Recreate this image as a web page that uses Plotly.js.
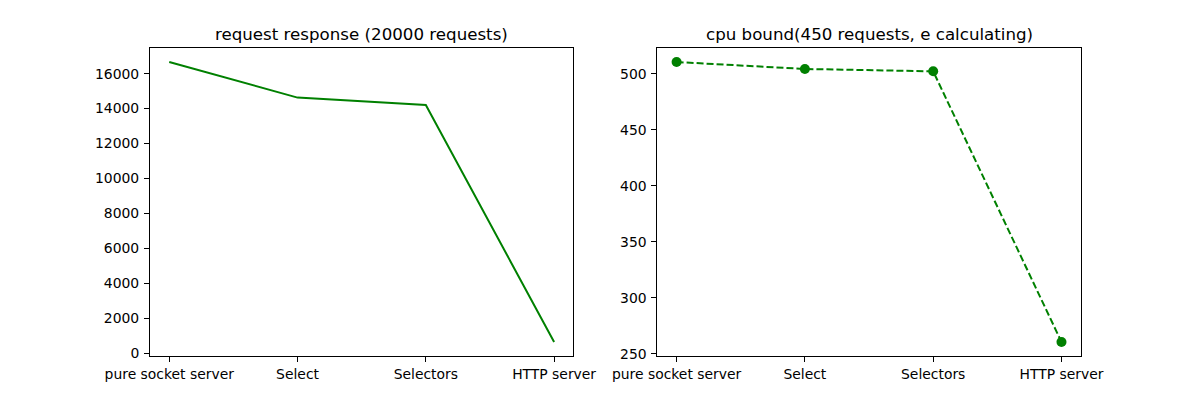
<!DOCTYPE html>
<html>
<head>
<meta charset="utf-8">
<script src="https://cdn.plot.ly/plotly-3.0.1.min.js"></script>
<style>html,body{margin:0;padding:0;background:#fff;}#chart{width:1200px;height:400px;}</style>
</head>
<body>
<div id="chart"></div>
<script>
const categories = ["pure socket server", "Select", "Selectors", "HTTP server"];
const requestResponse = [16670, 14630, 14210, 630];
const cpuBound = [510.4, 504.2, 502.1, 260.7];
const titles = ["request response (20000 requests)", "cpu bound(450 requests, e calculating)"];

const green = "#008000";
const font = {family: "DejaVu Sans, sans-serif", size: 13.9, color: "#000"};
const xIdx = categories.map((_, i) => i);

const traces = [
  {x: xIdx, y: requestResponse, type: "scatter", mode: "lines",
   line: {color: green, width: 2}, xaxis: "x", yaxis: "y", hoverinfo: "skip"},
  {x: xIdx, y: cpuBound, type: "scatter", mode: "lines+markers",
   line: {color: green, width: 2, dash: "7px,3px"},
   marker: {color: green, size: 10}, xaxis: "x2", yaxis: "y2", hoverinfo: "skip"}
];

function xa(domain, anchor) {
  return {domain: domain, anchor: anchor, range: [-0.15, 3.15],
    tickmode: "array", tickvals: xIdx, ticktext: categories,
    showgrid: false, zeroline: false, showline: true, mirror: true,
    linecolor: "#000", linewidth: 1, ticks: "outside", ticklen: 5, tickwidth: 1,
    tickcolor: "#000", tickfont: font, ticklabelstandoff: 0};
}
function ya(domain, anchor, range, dtick, tick0) {
  return {domain: domain, anchor: anchor, range: range, dtick: dtick, tick0: tick0,
    tickformat: "d", showgrid: false, zeroline: false, showline: true, mirror: true,
    linecolor: "#000", linewidth: 1, ticks: "outside", ticklen: 5, tickwidth: 1,
    tickcolor: "#000", tickfont: font, ticklabelstandoff: 2};
}

const yDom = [0.11, 0.88];
const layout = {
  width: 1200, height: 400,
  margin: {l: 0, r: 0, t: 0, b: 0},
  paper_bgcolor: "#fff", plot_bgcolor: "#fff",
  showlegend: false,
  xaxis: xa([0.125, 0.4778], "y"),
  yaxis: ya(yDom, "x", [-172, 17472], 2000, 0),
  xaxis2: xa([0.5478, 0.9006], "y2"),
  yaxis2: ya(yDom, "x2", [248.2, 522.9], 50, 250),
  annotations: [
    {text: titles[0], xref: "paper", yref: "paper", x: (0.125 + 0.4778) / 2, y: 0.88,
     xanchor: "center", yanchor: "bottom", yshift: 2, showarrow: false,
     font: {family: font.family, size: 16.67, color: "#000"}},
    {text: titles[1], xref: "paper", yref: "paper", x: (0.5478 + 0.9006) / 2, y: 0.88,
     xanchor: "center", yanchor: "bottom", yshift: 2, showarrow: false,
     font: {family: font.family, size: 16.67, color: "#000"}}
  ]
};

Plotly.newPlot("chart", traces, layout, {staticPlot: true, displayModeBar: false});
</script>
</body>
</html>
